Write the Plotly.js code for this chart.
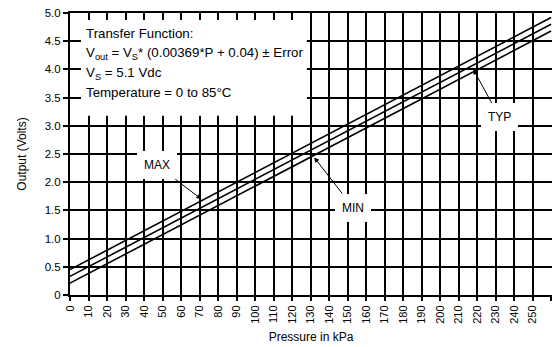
<!DOCTYPE html>
<html><head><meta charset="utf-8">
<script src="https://cdn.plot.ly/plotly-3.0.1.min.js"></script>
<style>html,body{margin:0;padding:0;background:#fff;}#chart{width:552px;height:347px;}</style>
</head><body><div id="chart"></div>
<script>
// Pressure (kPa) and output (Volts)
const pressure = [0, 50, 100, 150, 200, 260];
const vMax = [0.45, 1.31, 2.17, 3.03, 3.89, 4.92];
const vTyp = [0.33, 1.19, 2.05, 2.91, 3.77, 4.80];
const vMin = [0.21, 1.07, 1.93, 2.79, 3.65, 4.68];

const xTickVals = [0,10,20,30,40,50,60,70,80,90,100,110,120,130,140,150,160,170,180,190,200,210,220,230,240,250,260];
const yTickVals = [0,0.5,1.0,1.5,2.0,2.5,3.0,3.5,4.0,4.5,5.0];
const yTickText = ['0','0.5','1.0','1.5','2.0','2.5','3.0','3.5','4.0','4.5','5.0'];

const infoLines = [
  'Transfer Function:',
  'V<sub>out</sub> = V<sub>S</sub>* (0.00369*P + 0.04) ± Error',
  'V<sub>S</sub> = 5.1 Vdc',
  'Temperature = 0 to 85°C'
];
const infoY = [4.63, 4.28, 3.93, 3.59];

// white legend box region (decoration, in axis units)
const box = {x0: 0.4, x1: 128, y0: 3.18, y1: 4.98};

const FONT = 'Liberation Sans, Arial, sans-serif';
const lineStyle = {color: '#000', width: 1.6};

const traces = [
  {x: [box.x0, box.x1, box.x1, box.x0, box.x0], y: [box.y0, box.y0, box.y1, box.y1, box.y0],
   mode: 'none', fill: 'toself', fillcolor: '#fff', hoverinfo: 'skip', showlegend: false},
  {x: pressure, y: vMax, mode: 'lines', line: lineStyle, name: 'MAX', hoverinfo: 'skip'},
  {x: pressure, y: vTyp, mode: 'lines', line: lineStyle, name: 'TYP', hoverinfo: 'skip'},
  {x: pressure, y: vMin, mode: 'lines', line: lineStyle, name: 'MIN', hoverinfo: 'skip'},
  {x: [], y: [], xaxis: 'x2', yaxis: 'y2', mode: 'lines', showlegend: false, hoverinfo: 'skip'}
];

const annotations = infoLines.map((t, i) => ({
  x: 7.5, y: infoY[i], xref: 'x', yref: 'y', text: t, showarrow: false,
  xanchor: 'left', yanchor: 'middle', font: {family: FONT, size: 13.3, color: '#000'}
}));

function label(text, hx, hy, tx, ty) {
  return {
    x: hx, y: hy, xref: 'x', yref: 'y', ax: tx, ay: ty, axref: 'x', ayref: 'y',
    text: text, showarrow: true, arrowhead: 2, arrowsize: 1, arrowwidth: 1,
    arrowcolor: '#000', bgcolor: '#fff', borderpad: 7, borderwidth: 0,
    font: {family: FONT, size: 12, color: '#000'}
  };
}
annotations.push(label('MAX', 71, 1.70, 47, 2.30));
annotations.push(label('MIN', 132, 2.44, 153, 1.55));
annotations.push(label('TYP', 218, 4.00, 232, 3.16));

const layout = {
  width: 552, height: 347,
  margin: {l: 70, r: 0, t: 13, b: 52},
  paper_bgcolor: '#fff', plot_bgcolor: '#fff',
  showlegend: false,
  font: {family: FONT, size: 11, color: '#000'},
  xaxis: {
    range: [0, 260.5], tickvals: xTickVals, tickangle: -90,
    showgrid: true, gridcolor: '#000', gridwidth: 2,
    showline: true, linecolor: '#000', linewidth: 2, mirror: true,
    ticks: 'outside', ticklen: 4, tickwidth: 2, tickcolor: '#000',
    zeroline: false, fixedrange: true,
    tickfont: {family: FONT, size: 11, color: '#000'},
    title: {text: 'Pressure in kPa', font: {family: FONT, size: 12, color: '#000'}, standoff: 10}
  },
  yaxis: {
    range: [0, 5], tickvals: yTickVals, ticktext: yTickText,
    showgrid: true, gridcolor: '#000', gridwidth: 2,
    showline: true, linecolor: '#000', linewidth: 2, mirror: true,
    ticks: 'outside', ticklen: 5, tickwidth: 2, tickcolor: '#000',
    zeroline: false, fixedrange: true,
    tickfont: {family: FONT, size: 11.5, color: '#000'},
    title: {text: 'Output (Volts)', font: {family: FONT, size: 12, color: '#000'}, standoff: 16}
  },
  xaxis2: {
    overlaying: 'x', side: 'top', range: [0, 260.5], tickvals: xTickVals,
    showticklabels: false, showgrid: false, zeroline: false, fixedrange: true,
    ticks: 'inside', ticklen: 7, tickwidth: 2, tickcolor: '#000', showline: false
  },
  yaxis2: {
    overlaying: 'y', side: 'left', range: [0, 5], tickvals: yTickVals,
    showticklabels: false, showgrid: false, zeroline: false, fixedrange: true,
    ticks: 'inside', ticklen: 11, tickwidth: 2, tickcolor: '#000', showline: false
  },
  annotations: annotations
};

Plotly.newPlot('chart', traces, layout, {displayModeBar: false, responsive: false});
</script>
</body></html>
